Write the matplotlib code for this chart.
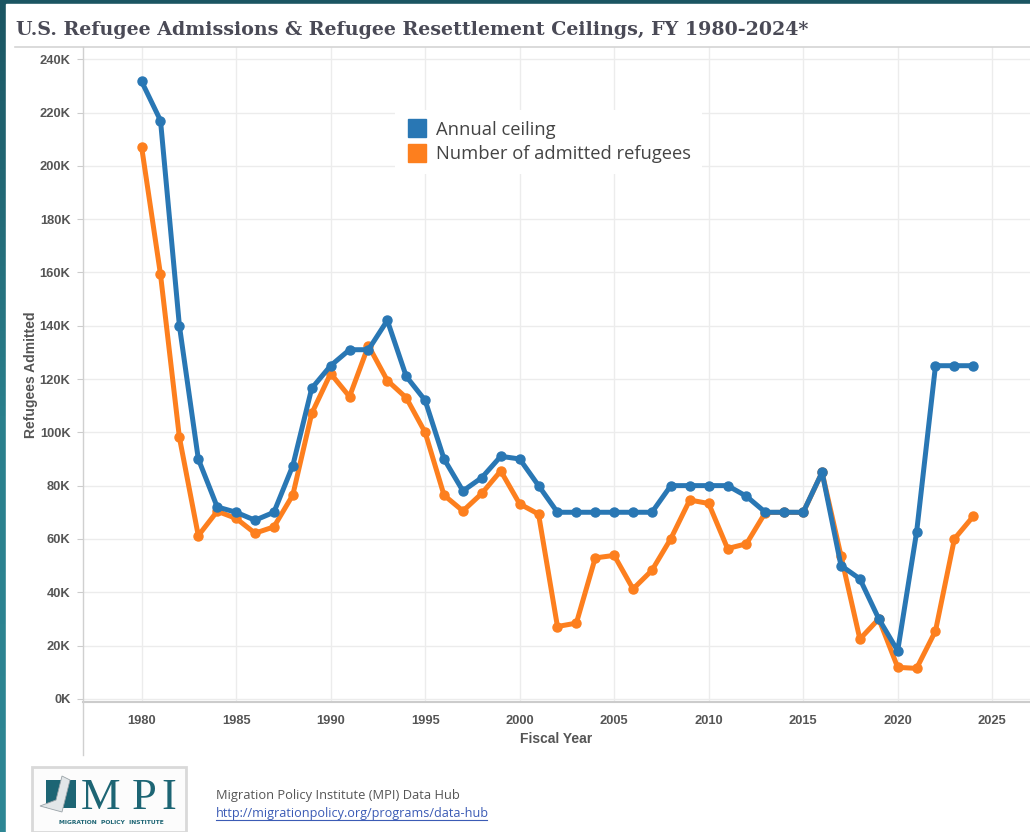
import numpy as np
import matplotlib.pyplot as plt
from matplotlib.lines import Line2D
from matplotlib.patches import Rectangle, Polygon


# data ------------------------------------------------------------------
years = list(range(1980, 2025))
ceiling = [231700, 217000, 140000, 90000, 72000, 70000, 67000, 70000, 87500, 116500,
           125000, 131000, 131000, 142000, 121000, 112000, 90000, 78000, 83000, 91000,
           90000, 80000, 70000, 70000, 70000, 70000, 70000, 70000, 80000, 80000,
           80000, 80000, 76000, 70000, 70000, 70000, 85000, 50000, 45000, 30000,
           18000, 62500, 125000, 125000, 125000]
admitted = [207116, 159252, 98096, 61218, 70393, 67704, 62146, 64528, 76483, 107070,
            122066, 113389, 132531, 119448, 112981, 99974, 76403, 70488, 77080, 85525,
            73147, 69304, 27131, 28403, 52873, 53813, 41223, 48218, 60107, 74602,
            73293, 56384, 58179, 69909, 69975, 69920, 84989, 53691, 22405, 30000,
            11814, 11411, 25465, 60014, 68500]
x_ticks = list(range(1980, 2030, 5))
y_ticks = list(range(0, 260000, 20000))
y_labels = [str(v // 1000) + "K" for v in y_ticks]

blue = "#2977b4"
orange = "#fd7f1e"
gray_txt = "#555555"
mpi_teal = "#1d6574"


# figure + background -----------------------------------------------------
fig = plt.figure(figsize=(10.30, 8.32), dpi=100)
bg = fig.add_axes([0, 0, 1, 1], zorder=-10)
grad = np.linspace(0, 1, 256).reshape(-1, 1)
teal = plt.matplotlib.colors.LinearSegmentedColormap.from_list("teal", ["#1b5562", "#2a7f8c", "#2e8795"])
bg.imshow(grad, aspect="auto", cmap=teal, extent=[0, 1, 0, 1], origin="upper")
bg.add_patch(Rectangle((6 / 1030, 0), 1, 1 - 4 / 832, color="white"))
bg.set_xlim(0, 1)
bg.set_ylim(0, 1)
bg.axis("off")

fig.text(16 / 1030, 1 - 30 / 832, "U.S. Refugee Admissions & Refugee Resettlement Ceilings, FY 1980-2024*",
         family="DejaVu Serif", weight="bold", fontsize=13.65, color="#4a4a56", va="center")
fig.add_artist(Line2D([15 / 1030, 1], [1 - 47 / 832, 1 - 47 / 832], color="#d4d4d4", lw=1.2))
fig.add_artist(Line2D([83 / 1030, 83 / 1030], [1 - 755 / 832, 1 - 47 / 832], color="#d0d0d0", lw=1))


# main plot -----------------------------------------------------------------
ax = fig.add_axes([83 / 1030, 130 / 832, 1 - 83 / 1030, (702 - 47) / 832])
ax.plot(years, admitted, color=orange, lw=3.6, marker="o", markersize=6.5, zorder=3)
ax.plot(years, ceiling, color=blue, lw=3.6, marker="o", markersize=6.5, zorder=4)

ax.set_xlim(1976.9, 2027)
ax.set_ylim(-1200, 244600)
ax.set_xticks(x_ticks)
ax.set_yticks(y_ticks)
ax.set_yticklabels(y_labels)
for lab in ax.get_xticklabels() + ax.get_yticklabels():
    lab.set_family("Liberation Sans")
    lab.set_weight("bold")
    lab.set_fontsize(9.3)
    lab.set_color(gray_txt)
ax.tick_params(axis="x", length=0, pad=9)
ax.tick_params(axis="y", length=4, color="#cccccc", pad=5)
ax.grid(True, color="#ececec", lw=1)
ax.set_axisbelow(True)
for s in ["top", "right", "left"]:
    ax.spines[s].set_visible(False)
ax.spines["bottom"].set_color("#cccccc")
ax.spines["bottom"].set_linewidth(1.5)

ax.set_xlabel("Fiscal Year", family="Liberation Sans", weight="bold", fontsize=10, color=gray_txt, labelpad=4)
ax.set_ylabel("Refugees Admitted", family="Liberation Sans", weight="bold", fontsize=10, color=gray_txt)
ax.yaxis.set_label_coords(-0.047, 0.5)

handles = [Line2D([], [], marker="s", linestyle="none", markersize=12.5, color=blue),
           Line2D([], [], marker="s", linestyle="none", markersize=12.5, color=orange)]
leg = ax.legend(handles, ["Annual ceiling", "Number of admitted refugees"], loc="upper left",
                bbox_to_anchor=(0.32, 0.918), frameon=True, facecolor="white", edgecolor="none",
                framealpha=1, fancybox=False, handletextpad=0.45, handlelength=1.2, labelspacing=0.36,
                borderpad=0.6, prop={"family": "Open Sans", "size": 13.2})
for t in leg.get_texts():
    t.set_color("#444444")


# footer with logo -----------------------------------------------------------
fig.add_artist(Rectangle((32 / 1030, 0), 154 / 1030, 65 / 832, facecolor="#fcfcfc",
                         edgecolor="#d9d9d9", lw=2, transform=fig.transFigure))
fig.add_artist(Rectangle((46 / 1030, 1 - 808 / 832), 30 / 1030, 28 / 832, facecolor=mpi_teal,
                         edgecolor="none", transform=fig.transFigure))
fig.add_artist(Polygon([(62 / 1030, 1 - 776 / 832), (70 / 1030, 1 - 780 / 832), (62 / 1030, 1 - 812 / 832),
                        (40 / 1030, 1 - 806 / 832), (56 / 1030, 1 - 800 / 832)],
                       closed=True, facecolor="#e2e6e8", edgecolor="#9aa3a8", lw=0.6, transform=fig.transFigure))
for letter, xl in zip(["M", "P", "I"], [81, 132, 161]):
    fig.text(xl / 1030, 1 - 809 / 832, letter, family="Liberation Serif", fontsize=32, color=mpi_teal,
             va="baseline")
fig.text(111 / 1030, 1 - 823 / 832, "MIGRATION  POLICY  INSTITUTE", family="DejaVu Sans", weight="bold",
         fontsize=4.3, color=mpi_teal, ha="center", va="center")
fig.text(216 / 1030, 1 - 795 / 832, "Migration Policy Institute (MPI) Data Hub", family="Open Sans",
         fontsize=9.3, color="#555555", va="center")
fig.text(216 / 1030, 1 - 813 / 832, "http://migrationpolicy.org/programs/data-hub", family="Open Sans",
         fontsize=9.1, color="#3b5bb5", va="center")
fig.add_artist(Line2D([216 / 1030, 487 / 1030], [1 - 820 / 832, 1 - 820 / 832], color="#3b5bb5", lw=0.8))

fig.savefig("out.png", dpi=100)
